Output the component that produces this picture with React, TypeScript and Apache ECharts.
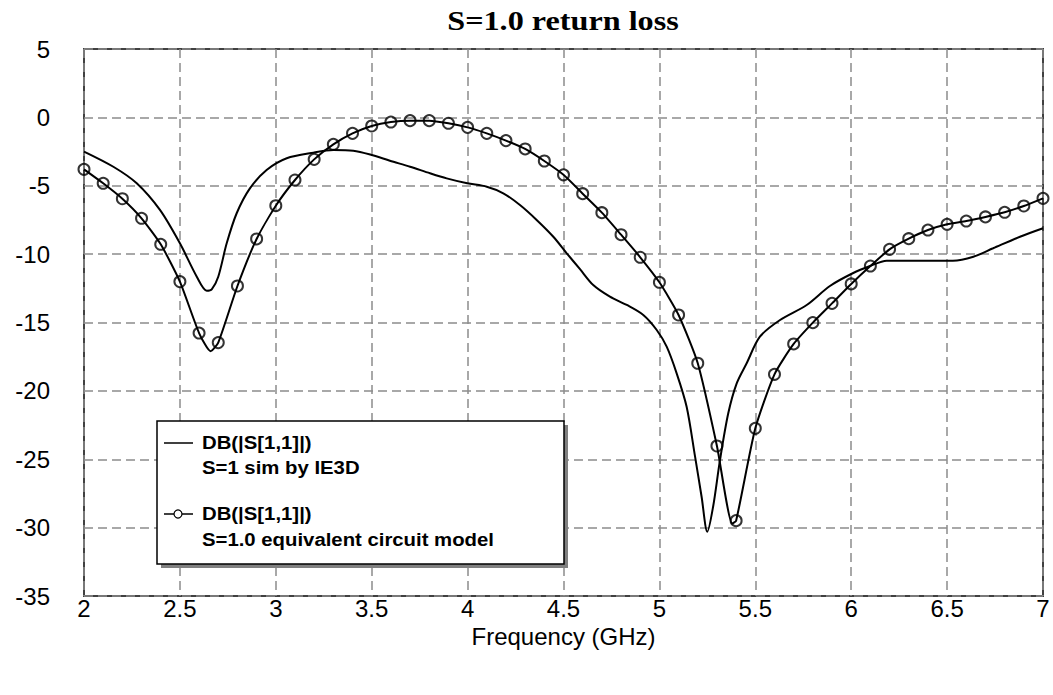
import React, { useEffect, useRef } from "react";
import * as echarts from "echarts";

// Circuit model markers (every 0.1 GHz)
const markerFreq = [
  2.0, 2.1, 2.2, 2.3, 2.4, 2.5, 2.6, 2.7, 2.8, 2.9,
  3.0, 3.1, 3.2, 3.3, 3.4, 3.5, 3.6, 3.7, 3.8, 3.9,
  4.0, 4.1, 4.2, 4.3, 4.4, 4.5, 4.6, 4.7, 4.8, 4.9,
  5.0, 5.1, 5.2, 5.3, 5.4, 5.5, 5.6, 5.7, 5.8, 5.9,
  6.0, 6.1, 6.2, 6.3, 6.4, 6.5, 6.6, 6.7, 6.8, 6.9,
  7.0,
];
const circuitDb = [
  -3.8, -4.82, -5.95, -7.38, -9.28, -12.01, -15.77, -16.47, -12.33, -8.89,
  -6.46, -4.58, -3.07, -1.97, -1.17, -0.63, -0.34, -0.24, -0.24, -0.43,
  -0.73, -1.17, -1.7, -2.31, -3.19, -4.2, -5.58, -6.97, -8.58, -10.23,
  -12.06, -14.45, -17.98, -24.03, -29.49, -22.74, -18.79, -16.57, -15.01, -13.6,
  -12.18, -10.87, -9.65, -8.87, -8.24, -7.82, -7.58, -7.28, -6.94, -6.48,
  -5.92,
];
// extra curve points of the circuit model between markers (dips)
const circuitExtraFreq = [2.66, 5.38];
const circuitExtraDb = [-17.1, -29.7];

// IE3D simulation curve
const simFreq = [
  2.0, 2.153, 2.275, 2.396, 2.5, 2.588, 2.64, 2.666, 2.7, 2.744,
  2.796, 2.865, 2.952, 3.057, 3.196, 3.3, 3.404, 3.5, 3.595, 3.7,
  3.804, 3.891, 3.998, 4.1, 4.186, 4.273, 4.36, 4.447, 4.517, 4.586,
  4.655, 4.742, 4.83, 4.916, 4.986, 5.038, 5.09, 5.142, 5.186, 5.22,
  5.25, 5.28, 5.316, 5.359, 5.403, 5.455, 5.524, 5.629, 5.768, 5.889,
  6.008, 6.098, 6.185, 6.324, 6.53, 6.637, 6.74, 6.88, 7.0,
];
const simDb = [
  -2.5, -3.61, -4.82, -6.77, -9.21, -11.65, -12.67, -12.57, -11.65, -9.21,
  -7.01, -5.19, -3.85, -2.99, -2.58, -2.39, -2.44, -2.75, -3.17, -3.61,
  -4.09, -4.46, -4.82, -5.07, -5.55, -6.41, -7.5, -8.73, -9.94, -11.1,
  -12.26, -13.11, -13.72, -14.45, -15.55, -16.77, -18.72, -21.16, -24.81, -27.74,
  -30.3, -28.47, -25.05, -21.64, -19.45, -17.98, -16.04, -14.82, -13.72, -12.33,
  -11.4, -10.87, -10.48, -10.48, -10.48, -10.19, -9.57, -8.73, -8.11,
];

const titleText = "S=1.0 return loss";
const xAxisTitle = "Frequency (GHz)";
const legendLabels = [
  ["DB(|S[1,1]|)", "S=1 sim by IE3D"],
  ["DB(|S[1,1]|)", "S=1.0 equivalent circuit model"],
];

export default function App() {
  const ref = useRef<HTMLDivElement>(null);
  useEffect(() => {
    if (!ref.current) return;
    const chart = echarts.init(ref.current, null, { renderer: "svg" });

    const markerData = markerFreq.map((f, i) => [f, circuitDb[i]]);
    const circuitLine = markerData
      .concat(circuitExtraFreq.map((f, i) => [f, circuitExtraDb[i]]))
      .sort((a, b) => a[0] - b[0]);
    const simData = simFreq.map((f, i) => [f, simDb[i]]);

    const font = "Liberation Sans";
    const legendFont = `bold 18px "${font}"`;

    chart.setOption({
      animation: false,
      backgroundColor: "#fff",
      grid: {
        left: 84,
        right: 10,
        top: 49,
        bottom: 99,
        show: true,
        borderColor: "#404040",
        borderWidth: 2,
        backgroundColor: "transparent",
      },
      xAxis: {
        type: "value",
        min: 2,
        max: 7,
        interval: 0.5,
        axisLine: { show: false },
        axisTick: { show: false },
        axisLabel: { color: "#000", fontSize: 24, fontFamily: font, margin: 0 },
        splitLine: {
          show: true,
          lineStyle: { color: "#8c8c8c", width: 1.5, type: [9, 5] },
        },
        name: xAxisTitle,
        nameLocation: "middle",
        nameGap: 28,
        nameTextStyle: { color: "#000", fontSize: 24, fontFamily: font },
      },
      yAxis: {
        type: "value",
        min: -35,
        max: 5,
        interval: 5,
        axisLine: { show: false },
        axisTick: { show: false },
        axisLabel: { color: "#000", fontSize: 24, fontFamily: font, margin: 34 },
        splitLine: {
          show: true,
          lineStyle: { color: "#8c8c8c", width: 1.5, type: [9, 5] },
        },
      },
      series: [
        {
          name: "sim",
          type: "line",
          data: simData,
          showSymbol: false,
          symbol: "none",
          smooth: 0.3,
          lineStyle: { color: "#000", width: 2 },
          z: 3,
        },
        {
          name: "circuit line",
          type: "line",
          data: circuitLine,
          showSymbol: false,
          symbol: "none",
          smooth: 0.2,
          lineStyle: { color: "#000", width: 2 },
          z: 3,
        },
        {
          name: "circuit markers",
          type: "scatter",
          data: markerData,
          symbol: "circle",
          symbolSize: 11,
          itemStyle: {
            color: "rgba(0,0,0,0)",
            borderColor: "#000",
            borderWidth: 2,
          },
          z: 4,
        },
      ],
      graphic: [
        {
          type: "text",
          x: 563,
          y: 21,
          scaleX: 1.15,
          style: {
            text: titleText,
            font: 'bold 28px "Liberation Serif"',
            fill: "#000",
            textAlign: "center",
            textVerticalAlign: "middle",
          },
        },
        {
          type: "rect",
          shape: { x: 161, y: 425, width: 407, height: 143 },
          style: { fill: "#808080" },
          z: 10,
        },
        {
          type: "rect",
          shape: { x: 157, y: 421, width: 407, height: 143 },
          style: { fill: "#fff", stroke: "#000", lineWidth: 1.5 },
          z: 11,
        },
        {
          type: "line",
          shape: { x1: 164, y1: 443, x2: 193, y2: 443 },
          style: { stroke: "#000", lineWidth: 1.5 },
          z: 12,
        },
        {
          type: "line",
          shape: { x1: 164, y1: 514, x2: 193, y2: 514 },
          style: { stroke: "#000", lineWidth: 1.5 },
          z: 12,
        },
        {
          type: "circle",
          shape: { cx: 178, cy: 514, r: 4 },
          style: { fill: "#fff", stroke: "#000", lineWidth: 1.2 },
          z: 13,
        },
        ...[
          [legendLabels[0][0], 443],
          [legendLabels[0][1], 468],
          [legendLabels[1][0], 514],
          [legendLabels[1][1], 540],
        ].map(([t, y]) => ({
          type: "text",
          x: 202,
          y: y as number,
          scaleX: 1.13,
          z: 12,
          style: {
            text: t as string,
            font: legendFont,
            fill: "#000",
            textAlign: "left",
            textVerticalAlign: "middle",
          },
        })),
      ],
    });
    return () => chart.dispose();
  }, []);

  return (
    <div
      ref={ref}
      style={{ position: "fixed", left: 0, top: 0, width: 1053, height: 695 }}
    />
  );
}
